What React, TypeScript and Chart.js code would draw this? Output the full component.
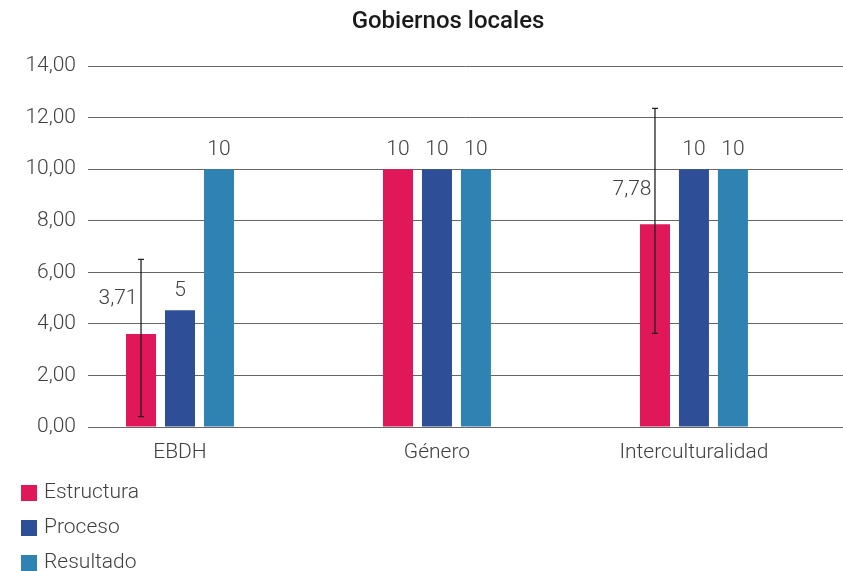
import React, { useEffect, useRef } from 'react';
import { Chart, registerables } from 'chart.js';

Chart.register(...registerables);

const titleText = 'Gobiernos locales';
const categories = ['EBDH', 'Género', 'Interculturalidad'];
const seriesNames = ['Estructura', 'Proceso', 'Resultado'];
const estructura = [3.61, 10, 7.86];
const proceso = [4.53, 10, 10];
const resultado = [10, 10, 10];
const estructuraLabels = ['3,71', '10', '7,78'];
const procesoLabels = ['5', '10', '10'];
const resultadoLabels = ['10', '10', '10'];
const estructuraErrLow: (number | null)[] = [0.4, null, 3.63];
const estructuraErrHigh: (number | null)[] = [6.5, null, 12.36];
const yTickValues = [0, 2, 4, 6, 8, 10, 12, 14];

const colors = ['#E01759', '#2E4F98', '#2F83B2'];
const textColor = '#404040';
const fontFamily = 'Roboto, "Noto Sans", sans-serif';

const seriesValues = [estructura, proceso, resultado];
const seriesLabels = [estructuraLabels, procesoLabels, resultadoLabels];
const seriesErrLow = [estructuraErrLow, [null, null, null], [null, null, null]];
const seriesErrHigh = [estructuraErrHigh, [null, null, null], [null, null, null]];

const annotatePlugin = {
  id: 'annotate',
  afterDatasetsDraw(chart: any) {
    const ctx = chart.ctx;
    const yScale = chart.scales.y;
    ctx.save();
    chart.data.datasets.forEach((ds: any, i: number) => {
      const meta = chart.getDatasetMeta(i);
      meta.data.forEach((bar: any, j: number) => {
        const lo = seriesErrLow[i][j];
        const hi = seriesErrHigh[i][j];
        const hasErr = lo !== null && hi !== null;
        if (hasErr) {
          const yLo = yScale.getPixelForValue(lo);
          const yHi = yScale.getPixelForValue(hi);
          ctx.strokeStyle = '#222222';
          ctx.lineWidth = 1.3;
          ctx.beginPath();
          ctx.moveTo(bar.x, yLo);
          ctx.lineTo(bar.x, yHi);
          ctx.moveTo(bar.x - 3, yLo);
          ctx.lineTo(bar.x + 3, yLo);
          ctx.moveTo(bar.x - 3, yHi);
          ctx.lineTo(bar.x + 3, yHi);
          ctx.stroke();
        }
        const label = seriesLabels[i][j];
        ctx.fillStyle = textColor;
        ctx.font = `300 21px ${fontFamily}`;
        ctx.textAlign = 'center';
        ctx.textBaseline = 'middle';
        if (hasErr) {
          ctx.fillText(label, bar.x - 23, bar.y - 35);
        } else {
          ctx.fillText(label, bar.x, bar.y - 19);
        }
      });
    });
    ctx.restore();
  },
  afterDraw(chart: any) {
    const ctx = chart.ctx;
    const area = chart.chartArea;
    ctx.save();
    // title, centred a little right of the canvas centre as in the reference
    ctx.fillStyle = '#1a1a1a';
    ctx.font = `500 24px ${fontFamily}`;
    ctx.textAlign = 'center';
    ctx.textBaseline = 'middle';
    ctx.fillText(titleText, area.left + 360, area.top - 44);
    chart.data.datasets.forEach((ds: any, i: number) => {
      const cy = area.bottom + 66 + 35 * i;
      ctx.fillStyle = ds.backgroundColor;
      ctx.fillRect(21, cy - 8, 16, 16);
      ctx.fillStyle = textColor;
      ctx.font = `300 21px ${fontFamily}`;
      ctx.textAlign = 'left';
      ctx.textBaseline = 'middle';
      ctx.fillText(ds.label, 44, cy);
    });
    ctx.restore();
  },
};

export default function App() {
  const canvasRef = useRef<HTMLCanvasElement | null>(null);

  useEffect(() => {
    if (!canvasRef.current) return;
    const chart = new Chart(canvasRef.current, {
      type: 'bar',
      data: {
        datasets: seriesNames.map((name, i) => ({
          label: name,
          data: seriesValues[i].map((v, j) => ({ x: j, y: v })),
          backgroundColor: colors[i],
          borderWidth: 0,
          categoryPercentage: 0.455,
          barPercentage: 0.77,
        })),
      },
      options: {
        responsive: false,
        animation: false,
        devicePixelRatio: 1,
        layout: { padding: { left: 0, right: 0, top: 66, bottom: 100 } },
        plugins: {
          legend: { display: false },
          tooltip: { enabled: false },
          title: { display: false },
        },
        scales: {
          x: {
            type: 'linear',
            offset: false,
            min: -0.358,
            max: 2.58,
            grid: { display: false },
            border: { display: false },
            afterBuildTicks: (scale: any) => {
              scale.ticks = categories.map((_, i) => ({ value: i }));
            },
            afterFit: (scale: any) => {
              scale.height = 44;
            },
            ticks: {
              color: textColor,
              font: { family: fontFamily, size: 21, weight: '300' },
              padding: 5,
              maxRotation: 0,
              autoSkip: false,
              callback: (v: any) => categories[v] ?? '',
            },
          },
          y: {
            min: 0,
            max: 14,
            afterBuildTicks: (scale: any) => {
              scale.ticks = yTickValues.map((v) => ({ value: v }));
            },
            afterFit: (scale: any) => {
              scale.width = 88;
            },
            grid: { color: '#666666', lineWidth: 1, drawTicks: false },
            border: { display: false },
            ticks: {
              color: textColor,
              font: { family: fontFamily, size: 21, weight: '300' },
              padding: 12,
              callback: (v: any) => Number(v).toFixed(2).replace('.', ','),
            },
          },
        },
      },
      plugins: [annotatePlugin],
    });
    return () => chart.destroy();
  }, []);

  return (
    <div style={{ position: 'absolute', left: 0, top: 0, width: 843, height: 571 }}>
      <canvas ref={canvasRef} width={843} height={571} style={{ display: 'block' }} />
    </div>
  );
}
